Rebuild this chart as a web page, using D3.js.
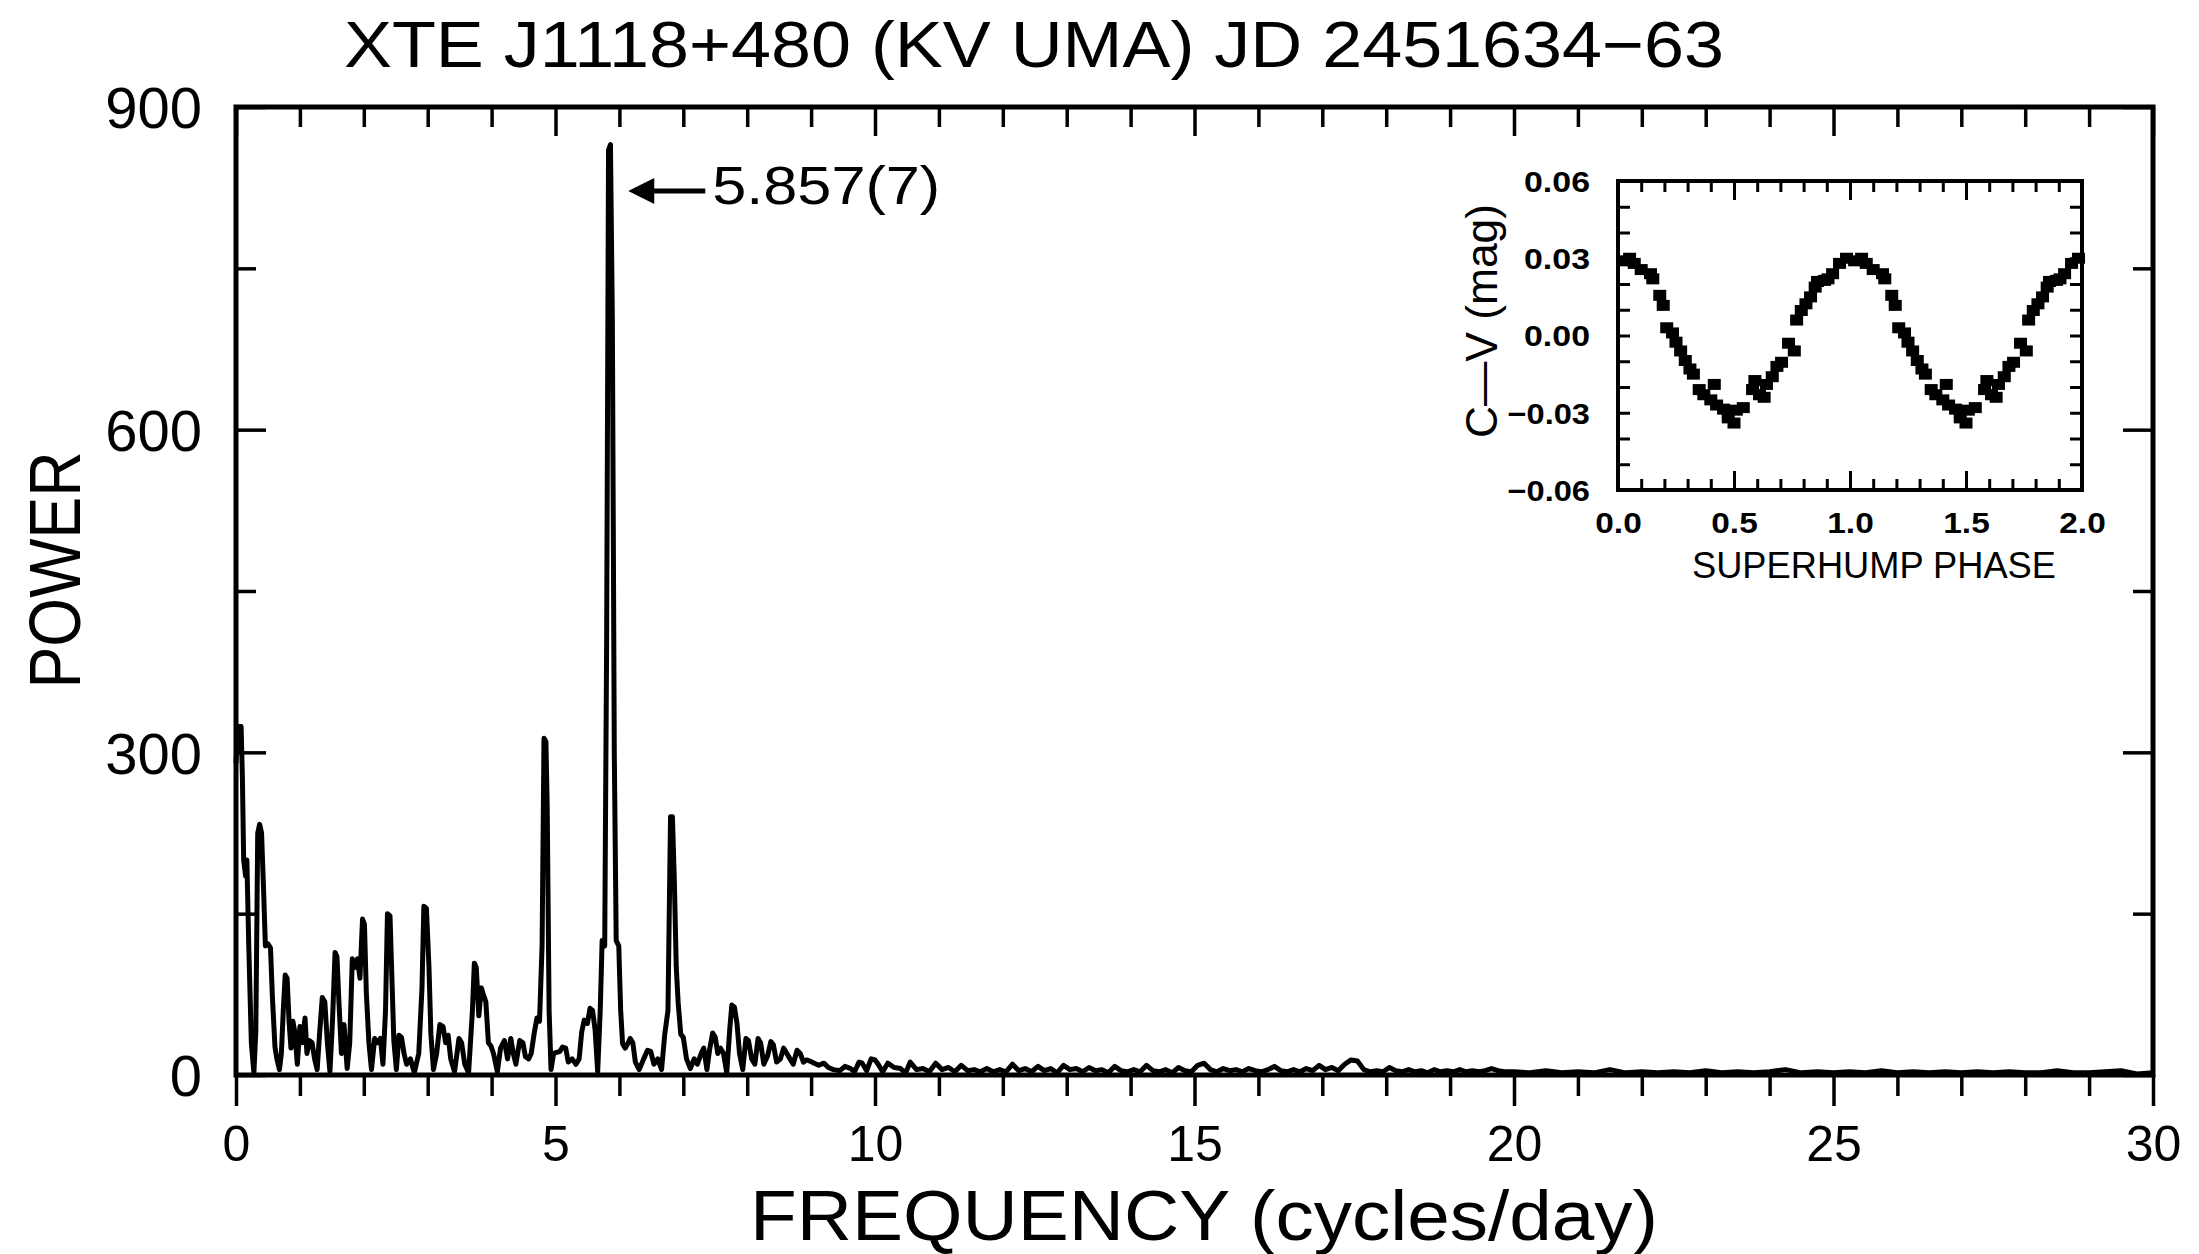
<!DOCTYPE html>
<html>
<head>
<meta charset="utf-8">
<script src="https://cdn.jsdelivr.net/npm/d3@7"></script>
<style>
  html, body { margin: 0; padding: 0; background: #fff; }
  svg { display: block; font-family: "Liberation Sans", Arial, sans-serif; }
</style>
</head>
<body>
<div id="chart"></div>
<script>
// texts
const titleText = "XTE J1118+480 (KV UMA) JD 2451634\u221263";
const xTitle = "FREQUENCY (cycles/day)";
const yTitle = "POWER";
const peakFreq = 5.857;
const peakLabel = "5.857(7)";
const insetXTitle = "SUPERHUMP  PHASE";
const insetYTitle = "C\u2014V (mag)";

// tick values
const xMajor = [0, 5, 10, 15, 20, 25, 30];
const xMinor = d3.range(0, 31, 1).filter(d => d % 5 !== 0);
const yMajor = [0, 300, 600, 900];
const yMinor = [150, 450, 750];
const phaseMajor = [0, 0.5, 1.0, 1.5, 2.0];
const phaseMinor = [0.1,0.2,0.3,0.4,0.6,0.7,0.8,0.9,1.1,1.2,1.3,1.4,1.6,1.7,1.8,1.9];
const magMajor = [-0.06, -0.03, 0, 0.03, 0.06];
const magMinor = [-0.05,-0.04,-0.02,-0.01,0.01,0.02,0.04,0.05];

// power spectrum [frequency, power]
const spectrum = [
  [0.00,290],[0.03,324],[0.08,324],[0.10,277],[0.12,200],[0.15,185],[0.17,200],[0.20,120],
  [0.24,30],[0.28,2],[0.31,40],[0.34,225],[0.37,233],[0.40,225],[0.43,175],[0.46,120],
  [0.50,122],[0.54,118],[0.57,72],[0.61,26],[0.64,15],[0.68,5],[0.71,20],[0.74,60],
  [0.77,93],[0.80,90],[0.83,50],[0.86,25],[0.89,50],[0.92,40],[0.96,10],[1.00,45],
  [1.04,30],[1.08,53],[1.11,20],[1.15,32],[1.19,30],[1.23,15],[1.27,5],[1.31,40],
  [1.35,72],[1.39,68],[1.43,30],[1.47,3],[1.51,50],[1.55,114],[1.58,110],[1.61,69],
  [1.65,20],[1.69,47],[1.74,6],[1.78,30],[1.82,108],[1.86,100],[1.90,108],[1.94,90],
  [1.98,145],[2.01,140],[2.04,76],[2.08,30],[2.12,5],[2.17,34],[2.21,30],[2.26,34],
  [2.30,10],[2.34,60],[2.37,150],[2.41,148],[2.44,90],[2.47,32],[2.51,5],[2.55,37],
  [2.59,35],[2.63,20],[2.67,10],[2.73,15],[2.79,2],[2.86,20],[2.91,80],[2.94,157],
  [2.98,155],[3.02,100],[3.05,38],[3.09,5],[3.14,20],[3.19,47],[3.24,45],[3.28,30],
  [3.32,37],[3.36,15],[3.42,3],[3.49,34],[3.53,30],[3.58,10],[3.64,2],[3.70,60],
  [3.73,104],[3.76,100],[3.80,55],[3.84,81],[3.87,75],[3.91,68],[3.95,30],[3.99,27],
  [4.03,20],[4.09,3],[4.14,25],[4.20,32],[4.25,15],[4.30,34],[4.34,20],[4.38,10],
  [4.44,32],[4.49,30],[4.53,17],[4.58,15],[4.62,20],[4.67,40],[4.71,53],[4.75,50],
  [4.79,120],[4.82,313],[4.85,310],[4.87,250],[4.90,60],[4.93,5],[4.97,20],[5.02,21],
  [5.07,22],[5.11,26],[5.16,25],[5.20,12],[5.26,15],[5.32,10],[5.37,15],[5.41,40],
  [5.45,51],[5.50,48],[5.54,62],[5.58,60],[5.62,42],[5.66,3],[5.70,60],[5.73,125],
  [5.77,120],[5.80,400],[5.83,860],[5.86,865],[5.89,700],[5.92,300],[5.95,125],[5.99,120],
  [6.02,60],[6.05,29],[6.09,25],[6.13,29],[6.17,34],[6.21,30],[6.25,12],[6.31,5],
  [6.38,15],[6.44,23],[6.49,22],[6.54,10],[6.60,15],[6.66,5],[6.71,38],[6.76,60],
  [6.80,240],[6.83,240],[6.86,180],[6.89,100],[6.92,67],[6.96,38],[7.00,35],[7.05,15],
  [7.11,6],[7.17,15],[7.22,10],[7.28,20],[7.32,25],[7.37,5],[7.41,23],[7.46,39],
  [7.50,35],[7.54,20],[7.58,25],[7.63,20],[7.68,2],[7.73,45],[7.76,65],[7.80,63],
  [7.84,48],[7.88,20],[7.93,5],[7.98,34],[8.02,32],[8.07,15],[8.12,10],[8.17,34],
  [8.21,30],[8.26,10],[8.32,18],[8.37,31],[8.41,28],[8.46,12],[8.52,15],[8.57,25],
  [8.62,20],[8.67,15],[8.72,10],[8.78,23],[8.83,20],[8.88,12],[8.93,14],[8.98,13],
  [9.05,11],[9.12,9],[9.20,11],[9.27,7],[9.35,5],[9.45,4],[9.53,8],[9.62,6],
  [9.68,3],[9.75,12],[9.80,11],[9.87,4],[9.94,15],[10.00,14],[10.05,10],[10.12,3],
  [10.20,11],[10.30,7],[10.40,6],[10.48,2],[10.55,12],[10.65,5],[10.75,6],[10.85,3],
  [10.95,11],[11.05,5],[11.15,7],[11.25,3],[11.35,9],[11.45,4],[11.55,5],[11.65,3],
  [11.75,6],[11.85,3],[11.95,5],[12.05,3],[12.15,10],[12.25,4],[12.35,6],[12.45,3],
  [12.55,8],[12.65,4],[12.75,6],[12.85,2],[12.95,9],[13.05,5],[13.15,6],[13.25,3],
  [13.35,7],[13.45,4],[13.55,5],[13.65,2],[13.75,8],[13.85,4],[13.95,3],[14.05,5],
  [14.15,3],[14.25,9],[14.35,4],[14.45,3],[14.55,5],[14.65,2],[14.75,7],[14.85,4],
  [14.95,3],[15.05,9],[15.15,11],[15.25,5],[15.35,3],[15.45,6],[15.55,4],[15.65,5],
  [15.75,3],[15.85,6],[15.95,4],[16.05,3],[16.15,5],[16.25,8],[16.35,4],[16.45,3],
  [16.55,5],[16.65,3],[16.75,6],[16.85,4],[16.95,9],[17.05,5],[17.15,7],[17.25,4],
  [17.35,10],[17.45,14],[17.55,13],[17.65,5],[17.75,3],[17.85,4],[17.95,3],[18.05,7],
  [18.15,4],[18.25,3],[18.35,5],[18.45,3],[18.55,4],[18.65,2],[18.75,5],[18.85,3],
  [18.95,4],[19.05,3],[19.15,5],[19.25,3],[19.35,4],[19.45,3],[19.55,4],[19.65,6],
  [19.75,4],[19.85,3],[20.00,3],[20.25,2],[20.50,4],[20.75,2],[21.00,3],[21.25,2],
  [21.50,5],[21.75,2],[22.00,3],[22.25,2],[22.50,3],[22.75,2],[23.00,4],[23.25,2],
  [23.50,3],[23.75,2],[24.00,3],[24.25,5],[24.50,2],[24.75,3],[25.00,2],[25.25,3],
  [25.50,2],[25.75,4],[26.00,2],[26.25,3],[26.50,2],[26.75,3],[27.00,2],[27.25,3],
  [27.50,2],[27.75,3],[28.00,2],[28.25,2],[28.50,4],[28.75,2],[29.00,2],[29.25,3],
  [29.50,4],[29.75,1],[30.00,2]
];

// folded light curve (one cycle, drawn twice)
const phase = [0.02,0.05,0.07,0.10,0.14,0.15,0.18,0.195,0.21,0.235,0.25,0.27,0.29,0.31,0.325,
  0.35,0.37,0.40,0.415,0.425,0.455,0.475,0.50,0.51,0.54,0.58,0.59,0.61,0.63,0.64,0.665,
  0.685,0.705,0.735,0.76,0.77,0.79,0.81,0.83,0.85,0.86,0.89,0.905,0.925,0.955,0.985];
const cmv = [0.029,0.030,0.028,0.0256,0.024,0.022,0.0156,0.0117,0.003,0.001,-0.0026,-0.006,
  -0.0097,-0.013,-0.015,-0.021,-0.023,-0.025,-0.019,-0.027,-0.0286,-0.032,-0.034,-0.029,
  -0.028,-0.021,-0.0175,-0.023,-0.024,-0.019,-0.016,-0.012,-0.0104,-0.003,-0.006,0.006,
  0.0097,0.0123,0.015,0.0188,0.021,0.0214,0.022,0.024,0.028,0.030];
const cycles = [0, 1];

var W = 2199, H = 1254;
var plot = {left: 236, top: 107, right: 2153, bottom: 1075};
var ins = {left: 1618, top: 181, right: 2082, bottom: 490};

var svg = d3.select("#chart").append("svg")
    .attr("width", W).attr("height", H);

// scales
var x = d3.scaleLinear().domain([0, 30]).range([plot.left, plot.right]);
var y = d3.scaleLinear().domain([0, 900]).range([plot.bottom, plot.top]);
var px = d3.scaleLinear().domain([0, 2]).range([ins.left, ins.right]);
var py = d3.scaleLinear().domain([-0.06, 0.06]).range([ins.bottom, ins.top]);

// draw one axis and clean it up
function addAxis(axis, tx, ty, keepLabels, sw) {
    var g = svg.append("g")
        .attr("transform", "translate(" + tx + "," + ty + ")")
        .call(axis);
    g.select(".domain").remove();
    g.selectAll(".tick line").attr("stroke", "#000").attr("stroke-width", sw || 3.5);
    if (!keepLabels) g.selectAll(".tick text").remove();
    return g;
}

// main frame ticks
var gx = addAxis(d3.axisBottom(x).tickValues(xMajor).tickSize(31).tickFormat(d3.format("d")), 0, plot.bottom, true);
addAxis(d3.axisBottom(x).tickValues(xMinor).tickSize(21), 0, plot.bottom, false);
addAxis(d3.axisTop(x).tickValues(xMajor).tickSize(-29), 0, plot.top, false);
addAxis(d3.axisTop(x).tickValues(xMinor).tickSize(-20), 0, plot.top, false);
var gy = addAxis(d3.axisLeft(y).tickValues(yMajor).tickSize(-30).tickPadding(34).tickFormat(d3.format("d")), plot.left, 0, true);
addAxis(d3.axisLeft(y).tickValues(yMinor).tickSize(-20), plot.left, 0, false);
addAxis(d3.axisRight(y).tickValues(yMajor).tickSize(-30), plot.right, 0, false);
addAxis(d3.axisRight(y).tickValues(yMinor).tickSize(-20), plot.right, 0, false);

gx.selectAll(".tick text")
    .attr("y", 86).attr("dy", null)
    .attr("font-size", 50).attr("fill", "#000")
    .attr("font-family", "Liberation Sans, Arial, sans-serif");
gy.selectAll(".tick text")
    .attr("dy", "0.36em")
    .attr("font-size", 58).attr("fill", "#000")
    .attr("font-family", "Liberation Sans, Arial, sans-serif");

svg.append("rect")
    .attr("x", plot.left).attr("y", plot.top)
    .attr("width", plot.right - plot.left).attr("height", plot.bottom - plot.top)
    .attr("fill", "none").attr("stroke", "#000").attr("stroke-width", 5);

// spectrum
var line = d3.line().x(d => x(d[0])).y(d => y(d[1]));
svg.append("path")
    .datum(spectrum)
    .attr("d", line)
    .attr("fill", "none")
    .attr("stroke", "#000")
    .attr("stroke-width", 5)
    .attr("stroke-linejoin", "round");

// titles
svg.append("text")
    .attr("x", 344).attr("y", 67)
    .attr("font-size", 65)
    .attr("textLength", 1380).attr("lengthAdjust", "spacingAndGlyphs")
    .text(titleText);

svg.append("text")
    .attr("x", 750).attr("y", 1240)
    .attr("font-size", 70)
    .attr("textLength", 908).attr("lengthAdjust", "spacingAndGlyphs")
    .text(xTitle);

svg.append("text")
    .attr("transform", "translate(80,570) rotate(-90)")
    .attr("text-anchor", "middle")
    .attr("font-size", 73)
    .attr("textLength", 237).attr("lengthAdjust", "spacingAndGlyphs")
    .text(yTitle);

// peak annotation
var ay = y(822), ax = x(peakFreq) + 18;
svg.append("path")
    .attr("d", "M" + ax + "," + ay + "L" + (ax + 26) + "," + (ay - 13) + "L" + (ax + 26) + "," + (ay + 13) + "Z")
    .attr("fill", "#000");
svg.append("line")
    .attr("x1", ax + 20).attr("x2", ax + 77)
    .attr("y1", ay).attr("y2", ay)
    .attr("stroke", "#000").attr("stroke-width", 5);
svg.append("text")
    .attr("x", ax + 84).attr("y", ay + 13)
    .attr("font-size", 53)
    .attr("textLength", 228).attr("lengthAdjust", "spacingAndGlyphs")
    .text(peakLabel);

// ---- inset ----
var gpx = addAxis(d3.axisBottom(px).tickValues(phaseMajor).tickSize(-19).tickFormat(d3.format(".1f")), 0, ins.bottom, true, 3);
addAxis(d3.axisBottom(px).tickValues(phaseMinor).tickSize(-11), 0, ins.bottom, false, 3);
addAxis(d3.axisTop(px).tickValues(phaseMajor).tickSize(-19), 0, ins.top, false, 3);
addAxis(d3.axisTop(px).tickValues(phaseMinor).tickSize(-11), 0, ins.top, false, 3);
var gpy = addAxis(d3.axisLeft(py).tickValues(magMajor).tickSize(-12).tickPadding(28).tickFormat(d3.format(".2f")), ins.left, 0, true, 3);
addAxis(d3.axisLeft(py).tickValues(magMinor).tickSize(-12), ins.left, 0, false, 3);
addAxis(d3.axisRight(py).tickValues(magMajor).tickSize(-12), ins.right, 0, false, 3);
addAxis(d3.axisRight(py).tickValues(magMinor).tickSize(-12), ins.right, 0, false, 3);

gpx.selectAll(".tick text")
    .attr("y", 43).attr("dy", null)
    .attr("font-size", 29).attr("font-weight", "bold").attr("fill", "#000")
    .attr("font-family", "Liberation Sans, Arial, sans-serif")
    .attr("textLength", function() { return this.textContent.length * 15.5; })
    .attr("lengthAdjust", "spacingAndGlyphs");
gpy.selectAll(".tick text")
    .attr("dy", "0.36em")
    .attr("font-size", 29).attr("font-weight", "bold").attr("fill", "#000")
    .attr("font-family", "Liberation Sans, Arial, sans-serif")
    .attr("textLength", function() { return this.textContent.length * 16.5; })
    .attr("lengthAdjust", "spacingAndGlyphs");

svg.append("rect")
    .attr("x", ins.left).attr("y", ins.top)
    .attr("width", ins.right - ins.left).attr("height", ins.bottom - ins.top)
    .attr("fill", "none").attr("stroke", "#000").attr("stroke-width", 4);

// folded points, repeated for both cycles
var pts = [];
cycles.forEach(function(c) {
    phase.forEach(function(p, i) { pts.push({ph: p + c, v: cmv[i]}); });
});
svg.append("g").selectAll("rect")
    .data(pts)
    .join("rect")
    .attr("x", d => px(d.ph) - 6.5)
    .attr("y", d => py(d.v) - 5.5)
    .attr("width", 13).attr("height", 11)
    .attr("fill", "#000");

svg.append("text")
    .attr("x", 1692).attr("y", 578)
    .attr("font-size", 36)
    .attr("textLength", 364).attr("lengthAdjust", "spacingAndGlyphs")
    .text(insetXTitle);

svg.append("text")
    .attr("transform", "translate(1497,321) rotate(-90)")
    .attr("text-anchor", "middle")
    .attr("font-size", 44)
    .attr("textLength", 234).attr("lengthAdjust", "spacingAndGlyphs")
    .text(insetYTitle);
</script>
</body>
</html>
